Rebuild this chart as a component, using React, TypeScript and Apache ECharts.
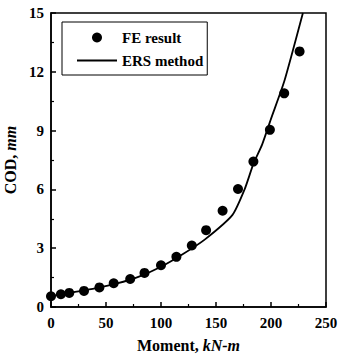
import React, { useEffect, useRef } from "react";
import * as echarts from "echarts";

const feMoment = [0, 9, 16.6, 30, 44, 57, 72, 85, 100, 114, 128, 141, 156, 170, 184, 199, 212, 226];
const feCod = [0.55, 0.65, 0.72, 0.82, 1.0, 1.21, 1.43, 1.74, 2.13, 2.56, 3.14, 3.92, 4.91, 6.02, 7.42, 9.04, 10.9, 13.04];

const ersMoment = [0, 20, 40, 60, 80, 100, 120, 140, 165, 176, 184, 192, 200, 212, 229];
const ersCod = [0.55, 0.75, 0.95, 1.2, 1.55, 2.05, 2.7, 3.45, 4.7, 6.0, 7.3, 8.3, 9.6, 11.5, 15];

const xTicks = [0, 50, 100, 150, 200, 250];
const yTicks = [0, 3, 6, 9, 12, 15];

const FONT = "'Liberation Serif', 'Times New Roman', serif";

export default function App() {
  const ref = useRef<HTMLDivElement>(null);
  useEffect(() => {
    if (!ref.current) return;
    const chart = echarts.init(ref.current, null, { renderer: "svg" });
    chart.setOption({
      animation: false,
      backgroundColor: "#fff",
      textStyle: { fontFamily: FONT },
      grid: {
        left: 51,
        right: 12,
        top: 13,
        bottom: 51,
        outerBoundsMode: "none",
        containLabel: false,
        show: true,
        borderColor: "#000",
        borderWidth: 1.5,
        backgroundColor: "transparent",
      },
      legend: {
        left: 62,
        top: 22,
        orient: "vertical",
        itemWidth: 40,
        itemHeight: 10,
        itemGap: 8,
        padding: [8, 4, 7, 15],
        borderColor: "#000",
        borderWidth: 1,
        symbolKeepAspect: true,
        textStyle: { fontFamily: FONT, fontWeight: "bold", fontSize: 15, color: "#000" },
        data: [
          { name: "FE result", icon: "circle" },
          { name: "ERS method", icon: "path://M0,0 L40,0 L40,2 L0,2 Z" },
        ],
      },
      xAxis: {
        type: "value",
        min: xTicks[0],
        max: xTicks[xTicks.length - 1],
        interval: 50,
        name: "Moment, {i|kN-m}",
        nameLocation: "middle",
        nameGap: 30,
        nameTextStyle: {
          fontFamily: FONT,
          fontWeight: "bold",
          fontSize: 16,
          color: "#000",
          rich: { i: { fontFamily: FONT, fontWeight: "bold", fontStyle: "italic", fontSize: 16, color: "#000" } },
        },
        axisLine: { show: true, lineStyle: { color: "#000", width: 1.5 } },
        axisTick: { show: true, inside: true, length: 5, lineStyle: { color: "#000", width: 1.5 } },
        minorTick: { show: true, splitNumber: 2, length: 3, lineStyle: { color: "#000", width: 1.2 } },
        axisLabel: { fontFamily: FONT, fontWeight: "bold", fontSize: 15, color: "#000", margin: 8 },
        splitLine: { show: false },
      },
      yAxis: {
        type: "value",
        min: yTicks[0],
        max: yTicks[yTicks.length - 1],
        interval: 3,
        name: "COD, {i|mm}",
        nameLocation: "middle",
        nameGap: 28,
        nameTextStyle: {
          fontFamily: FONT,
          fontWeight: "bold",
          fontSize: 16,
          color: "#000",
          rich: { i: { fontFamily: FONT, fontWeight: "bold", fontStyle: "italic", fontSize: 16, color: "#000" } },
        },
        axisLine: { show: true, lineStyle: { color: "#000", width: 1.5 } },
        axisTick: { show: true, inside: true, length: 5, lineStyle: { color: "#000", width: 1.5 } },
        minorTick: { show: true, splitNumber: 2, length: 3, lineStyle: { color: "#000", width: 1.2 } },
        axisLabel: { fontFamily: FONT, fontWeight: "bold", fontSize: 15, color: "#000", margin: 7 },
        splitLine: { show: false },
      },
      series: [
        {
          name: "FE result",
          type: "scatter",
          symbol: "circle",
          symbolSize: 10,
          itemStyle: { color: "#000", opacity: 1 },
          data: feMoment.map((m, i) => [m, feCod[i]]),
          z: 3,
        },
        {
          name: "ERS method",
          type: "line",
          symbol: "none",
          smooth: 0.2,
          lineStyle: { color: "#000", width: 1.8 },
          itemStyle: { color: "#000" },
          data: ersMoment.map((m, i) => [m, ersCod[i]]),
          z: 2,
        },
      ],
    });
    return () => chart.dispose();
  }, []);
  return (
    <div
      ref={ref}
      style={{ position: "fixed", left: 0, top: 0, width: 338, height: 358 }}
    />
  );
}
